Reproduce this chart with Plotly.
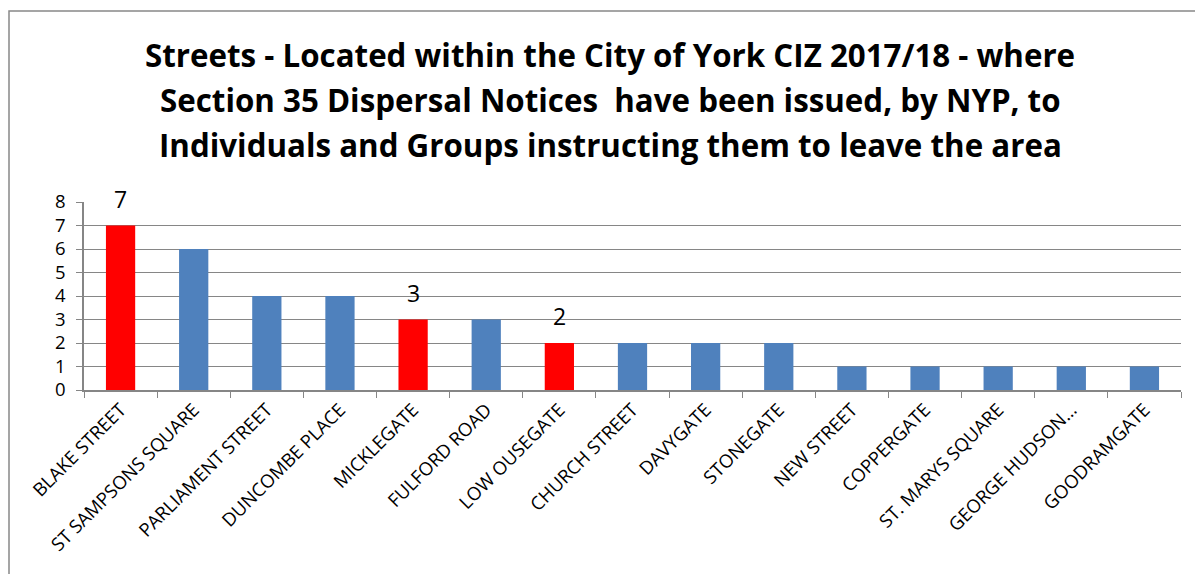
import plotly.graph_objects as go

streets = ["BLAKE STREET", "ST SAMPSONS SQUARE", "PARLIAMENT STREET", "DUNCOMBE PLACE",
           "MICKLEGATE", "FULFORD ROAD", "LOW OUSEGATE", "CHURCH STREET", "DAVYGATE",
           "STONEGATE", "NEW STREET", "COPPERGATE", "ST. MARYS SQUARE", "GEORGE HUDSON…",
           "GOODRAMGATE"]
notices = [7, 6, 4, 4, 3, 3, 2, 2, 2, 2, 1, 1, 1, 1, 1]
highlighted = ["BLAKE STREET", "MICKLEGATE", "LOW OUSEGATE"]
title_lines = [
    "Streets - Located within the City of York CIZ 2017/18 - where",
    "Section 35 Dispersal Notices  have been issued, by NYP, to",
    "Individuals and Groups instructing them to leave the area",
]

colors = ["#FF0000" if s in highlighted else "#4F81BD" for s in streets]

# page has an 8px body margin; compensate
OFF = 8
W, H = 1203 - OFF, 574 - OFF
L, T = 84 - OFF, 202 - OFF
R = 22
B = H - (390 - OFF)
pw, ph = W - L - R, H - T - B

fig = go.Figure(go.Bar(
    x=streets, y=notices, marker=dict(color=colors, line=dict(width=0)),
    width=0.40,
))

annotations = []
for s, v in zip(streets, notices):
    if s in highlighted:
        annotations.append(dict(
            x=s, y=v, xref="x", yref="y", text=str(v), showarrow=False,
            yanchor="middle", yshift=27,
            font=dict(family="Open Sans", size=23, color="#000000"),
        ))
for i, line in enumerate(title_lines):
    fx = (610 - OFF) / W
    fy = 1 - (55 + 45 * i - OFF) / H
    annotations.append(dict(
        x=(fx * W - L) / pw, y=(fy * H - B) / ph, xref="paper", yref="paper",
        text="<b>" + line + "</b>", showarrow=False, xanchor="center", yanchor="middle",
        font=dict(family="Open Sans", size=31.3, color="#000000"),
    ))

fig.update_layout(
    width=W, height=H,
    margin=dict(l=L, r=R, t=T, b=B, autoexpand=False),
    paper_bgcolor="white", plot_bgcolor="white",
    showlegend=False,
    font=dict(family="Open Sans", color="#000000"),
    annotations=annotations,
    xaxis=dict(
        tickangle=-45, tickfont=dict(size=18.5), showline=True, linecolor="#868686",
        linewidth=1.5, ticks="outside", tickson="boundaries", ticklen=6,
        tickcolor="#868686", showgrid=False, automargin=False,
    ),
    yaxis=dict(
        range=[0, 8], dtick=1, tickfont=dict(size=18.5), showline=True,
        linecolor="#868686", linewidth=1.5, ticks="outside", ticklen=6,
        tickcolor="#868686", gridcolor="#868686", gridwidth=1, zeroline=False,
        automargin=False, ticklabelstandoff=7,
    ),
    shapes=[dict(type="rect", xref="paper", yref="paper",
                 x0=(1 - L) / pw, x1=1.1, y0=-1.5, y1=1 + (202 - 11) / ph,
                 line=dict(color="#888888", width=1.5), fillcolor="rgba(0,0,0,0)",
                 layer="below")],
)

fig.write_html("out.html")
